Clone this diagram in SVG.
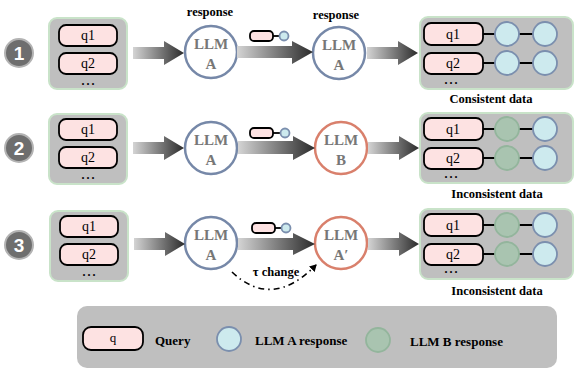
<svg xmlns="http://www.w3.org/2000/svg" width="575" height="369" viewBox="0 0 575 369">
<defs>
<linearGradient id="ag" x1="0" y1="0" x2="1" y2="0">
<stop offset="0" stop-color="#d4d4d4"/>
<stop offset="1" stop-color="#2b2b2b"/>
</linearGradient>
<marker id="ah" markerWidth="8" markerHeight="8" refX="6" refY="4" orient="auto" markerUnits="userSpaceOnUse">
<path d="M0,0 L7,4 L0,8 Z" fill="#000"/>
</marker>
</defs>
<style>
.box{fill:#bfbfbf;stroke:#c9e3c9;stroke-width:2}
.pill{fill:#fde2e2;stroke:#000;stroke-width:1.8}
.qt{font-family:"Liberation Serif",serif;font-size:14px;fill:#000;text-anchor:middle}
.dots{font-family:"Liberation Serif",serif;font-size:12px;font-weight:bold;fill:#000;text-anchor:middle;letter-spacing:2px}
.badge{fill:#6e6e6e;stroke:#b3b3b3;stroke-width:2}
.bt{font-family:"Liberation Sans",sans-serif;font-size:19px;font-weight:bold;fill:#fff;text-anchor:middle}
.llmA{fill:#fff;stroke:#7688a8;stroke-width:2.5}
.llmB{fill:#fff;stroke:#d9806c;stroke-width:2.5}
.lt{font-family:"Liberation Serif",serif;font-size:15px;font-weight:bold;fill:#777;text-anchor:middle}
.lbl{font-family:"Liberation Serif",serif;font-size:12.5px;font-weight:bold;fill:#000;text-anchor:middle}
.ra{fill:#cdeaee;stroke:#7b8fae;stroke-width:1.8}
.rb{fill:#a9c4b0;stroke:#93b59c;stroke-width:1.8}
.ln{stroke:#000;stroke-width:1.8}
.arr{fill:url(#ag)}
.leg{font-family:"Liberation Serif",serif;font-size:13px;font-weight:bold;fill:#000}
</style>

<!-- Row 1 -->
<g id="badge1"><circle class="badge" cx="19" cy="53" r="14"/><text class="bt" x="19" y="60">1</text></g>
<g id="input1">
<rect class="box" x="49" y="18" width="78" height="71" rx="8"/>
<rect class="pill" x="59" y="25" width="58" height="21" rx="7"/><text class="qt" x="88" y="40">q1</text>
<rect class="pill" x="59" y="53" width="58" height="21" rx="7"/><text class="qt" x="88" y="68">q2</text>
<text class="dots" x="89" y="85">...</text>
</g>
<g id="llm1a"><circle class="llmA" cx="211" cy="52" r="26"/><text class="lt" x="211" y="49">LLM</text><text class="lt" x="211" y="69">A</text><text class="lbl" x="210" y="16">response</text></g>
<g id="llm1b"><circle class="llmA" cx="339" cy="53" r="26"/><text class="lt" x="339" y="50">LLM</text><text class="lt" x="339" y="70">A</text><text class="lbl" x="336" y="19">response</text></g>
<g id="pair1"><rect class="pill" x="250" y="31" width="23" height="10" rx="4"/><line class="ln" x1="273" y1="36" x2="280" y2="36"/><circle class="ra" cx="284" cy="36" r="4.5"/></g>
<g id="output1">
<rect class="box" x="420" y="17" width="153" height="72" rx="8"/>
<line class="ln" x1="483" y1="34" x2="533" y2="34"/>
<line class="ln" x1="483" y1="63" x2="533" y2="63"/>
<rect class="pill" x="424" y="23" width="59" height="22" rx="7"/><text class="qt" x="453" y="39">q1</text>
<rect class="pill" x="424" y="53" width="59" height="21" rx="7"/><text class="qt" x="453" y="68">q2</text>
<circle class="ra" cx="507" cy="34" r="12"/><circle class="ra" cx="545" cy="34" r="12"/>
<circle class="ra" cx="507" cy="63" r="12"/><circle class="ra" cx="545" cy="63" r="12"/>
<text class="dots" x="452" y="84">...</text>
<text class="lbl" x="491" y="103">Consistent data</text>
</g>

<!-- Row 2 -->
<g id="badge2"><circle class="badge" cx="19" cy="148" r="14"/><text class="bt" x="19" y="155">2</text></g>
<g id="input2">
<rect class="box" x="49" y="114" width="78" height="70" rx="8"/>
<rect class="pill" x="59" y="119" width="58" height="21" rx="7"/><text class="qt" x="88" y="134">q1</text>
<rect class="pill" x="59" y="147" width="58" height="21" rx="7"/><text class="qt" x="88" y="162">q2</text>
<text class="dots" x="89" y="179">...</text>
</g>
<g id="llm2a"><circle class="llmA" cx="211" cy="148" r="26"/><text class="lt" x="211" y="145">LLM</text><text class="lt" x="211" y="165">A</text></g>
<g id="llm2b"><circle class="llmB" cx="341" cy="148" r="26"/><text class="lt" x="341" y="145">LLM</text><text class="lt" x="341" y="165">B</text></g>
<g id="pair2"><rect class="pill" x="250" y="128" width="23" height="10" rx="4"/><line class="ln" x1="273" y1="133" x2="280" y2="133"/><circle class="ra" cx="285" cy="133" r="4.5"/></g>
<g id="output2">
<rect class="box" x="420" y="113" width="153" height="70" rx="8"/>
<line class="ln" x1="483" y1="129" x2="533" y2="129"/>
<line class="ln" x1="483" y1="158" x2="533" y2="158"/>
<rect class="pill" x="424" y="118" width="59" height="22" rx="7"/><text class="qt" x="453" y="134">q1</text>
<rect class="pill" x="424" y="148" width="59" height="21" rx="7"/><text class="qt" x="453" y="163">q2</text>
<circle class="rb" cx="507" cy="129" r="12"/><circle class="ra" cx="545" cy="129" r="12"/>
<circle class="rb" cx="507" cy="158" r="12"/><circle class="ra" cx="545" cy="158" r="12"/>
<text class="dots" x="452" y="178">...</text>
<text class="lbl" x="497" y="198">Inconsistent data</text>
</g>

<!-- Row 3 -->
<g id="badge3"><circle class="badge" cx="19" cy="245" r="14"/><text class="bt" x="19" y="252">3</text></g>
<g id="input3">
<rect class="box" x="50" y="211" width="78" height="70" rx="8"/>
<rect class="pill" x="60" y="216" width="58" height="21" rx="7"/><text class="qt" x="89" y="231">q1</text>
<rect class="pill" x="60" y="244" width="58" height="21" rx="7"/><text class="qt" x="89" y="259">q2</text>
<text class="dots" x="90" y="276">...</text>
</g>
<g id="llm3a"><circle class="llmA" cx="211" cy="243" r="26"/><text class="lt" x="211" y="240">LLM</text><text class="lt" x="211" y="260">A</text></g>
<g id="llm3b"><circle class="llmB" cx="341" cy="243" r="26"/><text class="lt" x="341" y="240">LLM</text><text class="lt" x="341" y="260">A′</text></g>
<g id="pair3"><rect class="pill" x="252" y="223" width="23" height="10" rx="4"/><line class="ln" x1="275" y1="228" x2="282" y2="228"/><circle class="ra" cx="286" cy="228" r="4.5"/></g>
<g id="output3">
<rect class="box" x="420" y="209" width="153" height="70" rx="8"/>
<line class="ln" x1="483" y1="225" x2="533" y2="225"/>
<line class="ln" x1="483" y1="254" x2="533" y2="254"/>
<rect class="pill" x="424" y="214" width="59" height="22" rx="7"/><text class="qt" x="453" y="230">q1</text>
<rect class="pill" x="424" y="244" width="59" height="21" rx="7"/><text class="qt" x="453" y="259">q2</text>
<circle class="rb" cx="507" cy="225" r="12"/><circle class="ra" cx="545" cy="225" r="12"/>
<circle class="rb" cx="507" cy="254" r="12"/><circle class="ra" cx="545" cy="254" r="12"/>
<text class="dots" x="452" y="273">...</text>
<text class="lbl" x="497" y="295">Inconsistent data</text>
</g>

<!-- Connectors -->
<g id="connectors">
<path class="arr" d="M133,47 H164 V41 L184,53 L164,65 V59 H133 Z"/>
<path class="arr" d="M237,46 H292 V41 L313,52 L292,64 V58 H237 Z"/>
<path class="arr" d="M367,47 H398 V41 L418,53 L398,65 V59 H367 Z"/>
<path class="arr" d="M133,142 H164 V136 L184,148 L164,160 V154 H133 Z"/>
<path class="arr" d="M238,141 H293 V136 L315,148 L293,160 V154 H238 Z"/>
<path class="arr" d="M368,142 H399 V136 L419,148 L399,160 V154 H368 Z"/>
<path class="arr" d="M134,238 H165 V232 L185,244 L165,256 V250 H134 Z"/>
<path class="arr" d="M238,238 H293 V233 L315,244 L293,255 V250 H238 Z"/>
<path class="arr" d="M368,238 H399 V232 L419,244 L399,256 V250 H368 Z"/>
<path d="M232,272 Q272,310 316,265" fill="none" stroke="#000" stroke-width="1.6" stroke-dasharray="6 4 1.5 4" marker-end="url(#ah)"/>
<text class="lbl" x="276" y="276">τ change</text>
</g>

<!-- Legend -->
<g id="legend">
<rect x="77" y="306" width="480" height="62" rx="10" fill="#bfbfbf"/>
<rect class="pill" x="83" y="327" width="60" height="23" rx="8"/>
<text x="113" y="342" font-family="Liberation Serif, serif" font-size="13" text-anchor="middle">q</text>
<text class="leg" x="155" y="345">Query</text>
<circle class="ra" cx="229" cy="339" r="12"/>
<text class="leg" x="255" y="345">LLM A response</text>
<circle class="rb" cx="378" cy="340" r="12"/>
<text class="leg" x="410" y="346">LLM B response</text>
</g>
</svg>
